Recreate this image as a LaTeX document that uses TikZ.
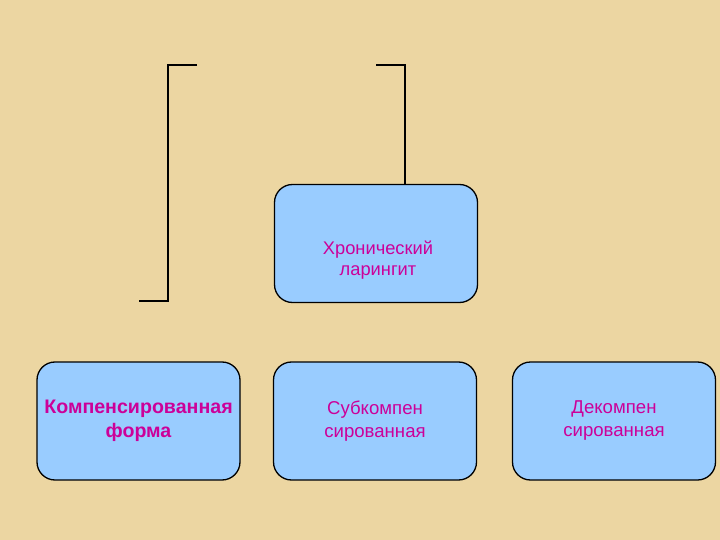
\documentclass[tikz,border=0pt]{standalone}
\usepackage{fontspec}
\setmainfont{Liberation Sans}
\usetikzlibrary{positioning,calc}
\definecolor{papyrus}{RGB}{236,214,162}
\definecolor{boxblue}{RGB}{153,204,255}
\definecolor{textmagenta}{RGB}{204,0,153}

\tikzset{
    bluebox/.style={draw=black, line width=1.3pt, fill=boxblue, rounded corners=18pt,
        minimum width=203pt, minimum height=118pt, inner sep=0pt},
    boxtext/.style={text=textmagenta, align=center, font=\fontsize{18.6}{23}\selectfont},
    bracket/.style={draw=black, line width=2.2pt}
}

\begin{document}
\begin{tikzpicture}[x=1pt, y=-1pt]
    % background
    \fill[papyrus] (0,0) rectangle (720,540);
    \useasboundingbox (0,0) rectangle (720,540);

    % top box
    \node[bluebox] (chron) at (376,243.5) {};
    \node[boxtext, font=\fontsize{18.3}{21}\selectfont] (chrontext) at (378,260) {Хронический\\ларингит};

    % bottom row
    \node[bluebox, boxtext, font=\bfseries\fontsize{19.6}{24}\selectfont] (comp) at (138.5,421) {Компенсированная\\форма};
    \node[bluebox, boxtext] (subcomp) at (375,421) {Субкомпен\\сированная};
    \node[bluebox, boxtext] (decomp) at (614,421) {Декомпен\\сированная};

    % brackets
    \coordinate (ltop) at (197,65);
    \coordinate (lcorner) at (168,65);
    \coordinate (lbottom) at (139,301);
    \draw[bracket] (ltop) -- (lcorner) |- (lbottom);

    \coordinate (rtop) at (376,65);
    \coordinate (rcorner) at (405,65);
    \draw[bracket] (rtop) -- (rcorner) -- (rcorner |- chron.north);
\end{tikzpicture}
\end{document}
